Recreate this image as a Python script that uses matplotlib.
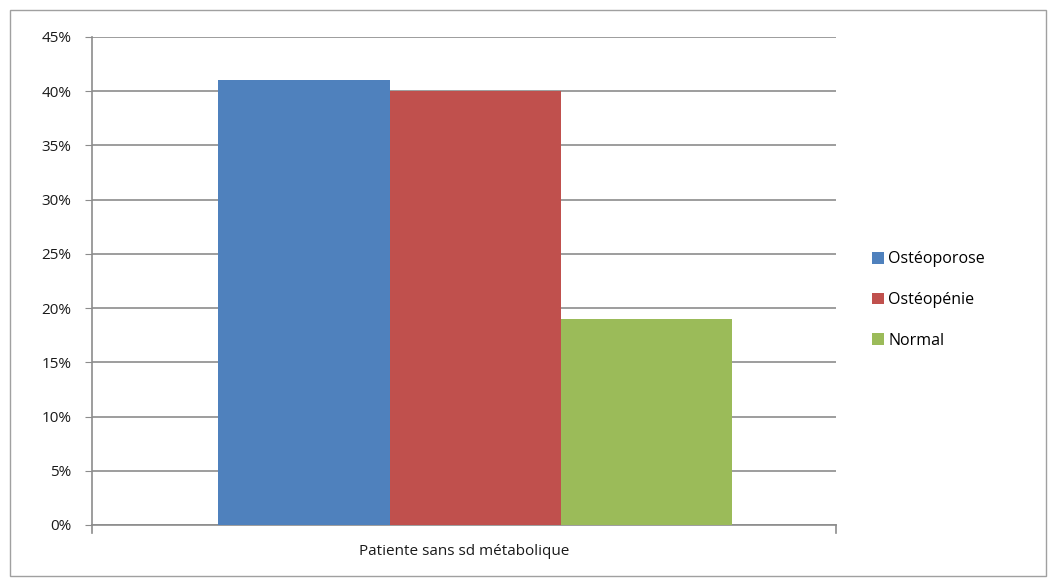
import matplotlib.pyplot as plt
from matplotlib.patches import Rectangle
from matplotlib.ticker import PercentFormatter

# data
category = "Patiente sans sd métabolique"
series = ["Ostéoporose", "Ostéopénie", "Normal"]
values = [41, 40, 19]
colors = ["#4f81bd", "#c0504d", "#9bbb59"]
y_ticks = [0, 5, 10, 15, 20, 25, 30, 35, 40, 45]

plt.rcParams["font.family"] = ["Open Sans", "DejaVu Sans"]

fig = plt.figure(figsize=(10.56, 5.85), dpi=100)
ax = fig.add_axes([92 / 1056, 1 - 525 / 585, (836 - 92) / 1056, (525 - 37) / 585])

# light outer frame like the Excel chart area
fig.patches.append(Rectangle((10 / 1056, 9 / 585), 1036 / 1056, 566 / 585,
                             transform=fig.transFigure, fill=False,
                             edgecolor="#a0a0a0", linewidth=1))

bar_w = 0.23
offsets = [-1, 0, 1]
for name, val, col, off in zip(series, values, colors, offsets):
    ax.bar(0.015 + off * bar_w, val, width=bar_w, color=col, label=name, zorder=3)

ax.set_xlim(-0.5, 0.5)
ax.set_ylim(0, 45)
ax.set_yticks(y_ticks)
ax.yaxis.set_major_formatter(PercentFormatter(decimals=0))
ax.yaxis.grid(True, color="#8c8c8c", linewidth=1.2, zorder=0)
ax.set_xticks([0])
ax.set_xticklabels([category])
ax.tick_params(axis="x", length=0, pad=14, labelsize=11, labelcolor="#1a1a1a")
ax.tick_params(axis="y", length=5, color="#8c8c8c", labelsize=11,
               labelcolor="#1a1a1a", pad=10)
for s in ["top", "right"]:
    ax.spines[s].set_visible(False)
ax.spines["left"].set_color("#8c8c8c")
ax.spines["bottom"].set_color("#8c8c8c")
ax.spines["left"].set_linewidth(1.2)
ax.spines["bottom"].set_linewidth(1.2)
# small end ticks on the category axis
for xe in (-0.5, 0.5):
    ax.plot([xe, xe], [0, -0.7], color="#8c8c8c", linewidth=1.2, clip_on=False)

fig.legend(loc="upper left", bbox_to_anchor=(858 / 1056, 1 - 237 / 585),
           frameon=False, fontsize=11.5, handlelength=0.75, handleheight=0.75,
           handletextpad=0.25, labelspacing=1.55)

fig.savefig("out.png", dpi=100)
